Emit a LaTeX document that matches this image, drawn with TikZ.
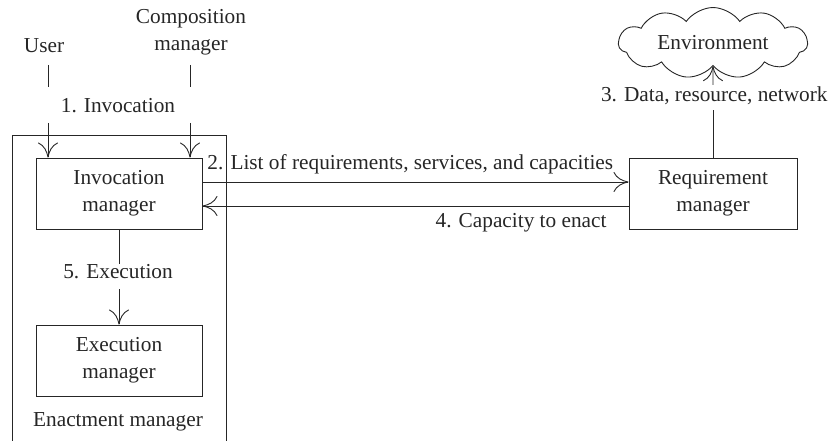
\documentclass[tikz,border=0pt]{standalone}
\usepackage{fontspec}
\setmainfont{Liberation Serif}
\usetikzlibrary{arrows.meta,positioning,shapes.symbols}

\begin{document}
\begin{tikzpicture}[
    x=1pt,y=-1pt,
    font=\fontsize{21.3}{27}\selectfont,
    line width=0.9pt,color=black!85,
    box/.style={draw,align=center,minimum width=166pt,minimum height=71pt,inner sep=0pt},
    lbl/.style={inner sep=0pt,align=center},
    arr/.style={-{To[length=15pt,width=20pt]}}
]
\useasboundingbox (0,0) rectangle (830,441);
% boxes
\node[box] (inv) at (119,193.5) {Invocation\\manager};
\node[box] (exe) at (119,360.5) {Execution\\manager};
\node[box,minimum width=168pt] (req) at (713,193.5) {Requirement\\manager};
\node[cloud,draw,cloud puffs=11,cloud puff arc=110,aspect=3.15,minimum width=189pt,minimum height=60pt,inner sep=0pt] (env) at (713,43) {Environment};
% texts
\node[lbl] (user) at (44,46) {User};
\node[lbl] (comp) at (191,32.5) {Composition\\manager};
\node[lbl] (invlbl) at (118,106) {1. Invocation};
\node[lbl,anchor=west] (reqlbl) at (207,164) {2. List of requirements, services, and capacities};
\node[lbl,anchor=east] (datlbl) at (828,96) {3. Data, resource, network};
\node[lbl,anchor=east] (caplbl) at (607,223) {4. Capacity to enact};
\node[lbl] (exelbl) at (118,272) {5. Execution};
\node[lbl] (enact) at (118,422) {Enactment manager};
% enactment frame
\draw (12,441) -- (12,135) -- (226,135) -- (226,441);
% break points
\coordinate (u1) at (48,65);
\coordinate (u2) at (48,87);
\coordinate (u3) at (48,123);
\coordinate (c1) at (190,65);
\coordinate (c2) at (190,87);
\coordinate (c3) at (190,123);
\coordinate (d1) at (713,110);
\coordinate (d2) at (713,85);
\coordinate (e1) at (119,264);
\coordinate (e2) at (119,289);
% connectors
\draw (u1) -- (u2);
\draw[arr] (u3) -- (u3 |- inv.north);
\draw (c1) -- (c2);
\draw[arr] (c3) -- (c3 |- inv.north);
\draw[arr] ([yshift=11.5pt]inv.east) -- ([yshift=11.5pt]inv.east -| req.west);
\draw[arr] ([yshift=-12.5pt]req.west) -- ([yshift=-12.5pt]req.west -| inv.east);
\draw (req.north) -- (d1);
\draw[arr] (d2) -- (env.south);
\draw (inv.south) -- (e1);
\draw[arr] (e2) -- (exe.north);
\end{tikzpicture}
\end{document}
